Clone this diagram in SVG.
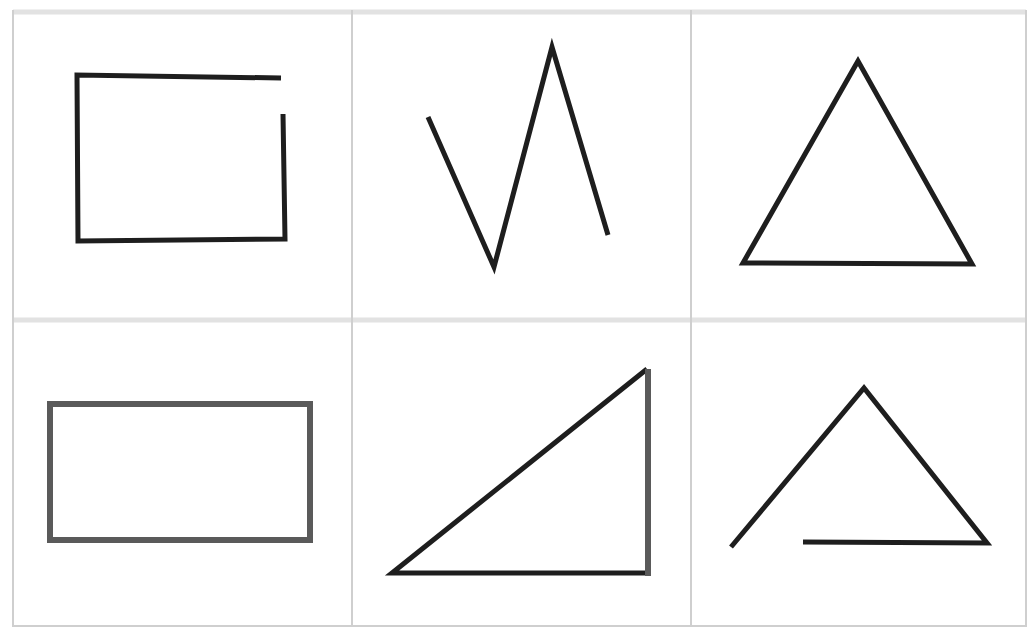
<svg xmlns="http://www.w3.org/2000/svg" width="1029" height="630" viewBox="0 0 1029 630">
<style>
.grid{stroke:#cfcfcf;stroke-width:2;fill:none}
.band{stroke:#e2e2e2;stroke-width:5;fill:none}
.s{stroke:#1e1e1e;stroke-width:5;fill:none;stroke-linejoin:miter;stroke-linecap:butt}
.g{stroke:#5a5a5a;stroke-width:6;fill:none}
</style>
<rect width="1029" height="630" fill="#ffffff"/>
<g id="grid">
<line class="band" x1="13" y1="12" x2="1026" y2="12"/>
<line class="band" x1="13" y1="320" x2="1026" y2="320"/>
<line class="grid" x1="13" y1="10" x2="13" y2="627"/>
<line class="grid" x1="352" y1="10" x2="352" y2="627"/>
<line class="grid" x1="691" y1="10" x2="691" y2="627"/>
<line class="grid" x1="1026" y1="10" x2="1026" y2="627"/>
<line class="grid" x1="13" y1="626" x2="1026" y2="626"/>
</g>
<g id="open-rect">
<polyline class="s" points="281,78 77,75 78,241 285,239 283,114"/>
</g>
<g id="zigzag">
<polyline class="s" points="428,117 494,267 552,47 608,235"/>
</g>
<g id="triangle">
<polygon class="s" points="858,61 743,263 972,264"/>
</g>
<g id="rectangle">
<rect class="g" x="50" y="404" width="260" height="136"/>
</g>
<g id="right-triangle">
<polyline class="s" points="647,369 392,573 649,573"/>
<line class="g" x1="648" y1="369" x2="648" y2="576"/>
</g>
<g id="open-triangle">
<polyline class="s" points="731,547 864,388 987,543 803,542"/>
</g>
</svg>
